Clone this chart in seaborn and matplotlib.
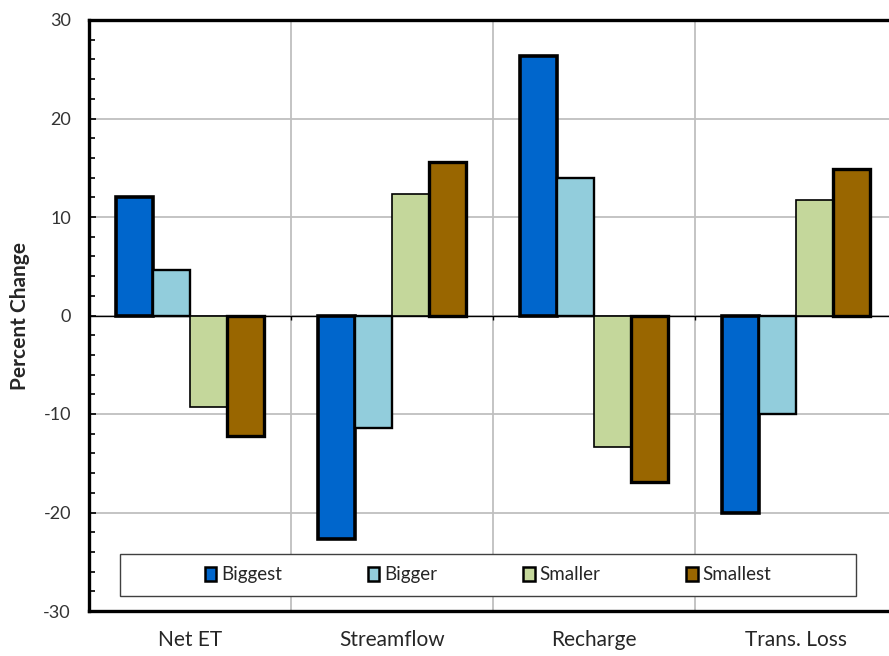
"""
Percent change by scenario - grouped bars
"""
import numpy as np
import pandas as pd
import matplotlib
matplotlib.use("Agg")
import matplotlib.pyplot as plt
from matplotlib.patches import Patch, Rectangle
from matplotlib.ticker import MultipleLocator, FixedLocator
import seaborn as sns


# ── Données ───────────────────────────────────────────────────────────────────

categories = ["Net ET", "Streamflow", "Recharge", "Trans. Loss"]
scenarios  = ["Biggest", "Bigger", "Smaller", "Smallest"]

biggest  = [12.0, -22.7, 26.3, -20.0]
bigger   = [4.6, -11.4, 14.0, -10.0]
smaller  = [-9.3, 12.3, -13.4, 11.7]
smallest = [-12.2, 15.6, -16.9, 14.9]

colors = ["#0066CC", "#92CDDC", "#C4D79B", "#996600"]
edge_w = [2.6, 1.7, 1.2, 2.4]

df = pd.DataFrame({
    "Component": categories * 4,
    "Scenario":  [s for s in scenarios for _ in categories],
    "Change":    biggest + bigger + smaller + smallest,
})


# ── Figure ────────────────────────────────────────────────────────────────────

sns.set_style("white")
plt.rcParams["font.family"] = ["Lato", "DejaVu Sans"]
plt.rcParams["axes.unicode_minus"] = False

fig = plt.figure(figsize=(8.89, 6.56), dpi=100)
ax = fig.add_axes([89 / 889, 45 / 656, 808 / 889, 591 / 656])

sns.barplot(
    data=df, x="Component", y="Change", hue="Scenario",
    order=categories, hue_order=scenarios, palette=colors, saturation=1,
    width=0.73, edgecolor="black", ax=ax, legend=False, zorder=3,
)
for cont, lw in zip(ax.containers, edge_w):
    for p in cont:
        p.set_linewidth(lw)

ax.set_xlim(-0.5, len(categories) - 0.5)
ax.set_ylim(-30, 30)
ax.yaxis.set_major_locator(MultipleLocator(10))
ax.yaxis.set_minor_locator(MultipleLocator(2))
ax.xaxis.set_minor_locator(FixedLocator(np.arange(0.5, len(categories) - 1, 1)))

ax.set_axisbelow(True)
ax.grid(False)
ax.grid(True, axis="y", which="major", color="#BFBFBF", lw=1.3)
ax.grid(True, axis="x", which="minor", color="#BFBFBF", lw=1.3)

ax.axhline(0, color="black", lw=1.0, zorder=2)
ax.vlines(np.arange(0.5, len(categories) - 1, 1), -0.5, 0, color="black", lw=1.0, zorder=2)

for side in ["left", "top", "bottom"]:
    ax.spines[side].set_linewidth(2.4)
    ax.spines[side].set_color("black")
ax.spines["right"].set_visible(False)

ax.tick_params(axis="y", which="both", direction="in", left=True, color="black",
               labelsize=13, labelcolor="#333333", pad=13)
ax.tick_params(axis="y", which="major", length=5, width=1.2)
ax.tick_params(axis="y", which="minor", length=4, width=1.2)
ax.tick_params(axis="x", which="both", length=0, labelsize=15, pad=14)
ax.set_xlabel("")
ax.set_ylabel("")

fig.text(20 / 889, 1 - 316 / 656, "Percent Change", rotation=90,
         ha="center", va="center", fontweight="bold", fontsize=15)

# légende encadrée en bas
ax.add_patch(Rectangle((0.038, 0.025), 0.911, 0.071, transform=ax.transAxes,
                       facecolor="white", edgecolor="#404040", lw=1.0, zorder=4))
handles = [Patch(facecolor=c, edgecolor="black", lw=1.8) for c in colors]
leg = ax.legend(handles, scenarios, ncol=4, loc="center",
                bbox_to_anchor=(0.494, 0.061), frameon=False,
                handlelength=0.6, handleheight=0.75, handletextpad=0.25,
                columnspacing=4.6, fontsize=13.5)
leg.set_zorder(5)

fig.savefig("out.png", dpi=100)
